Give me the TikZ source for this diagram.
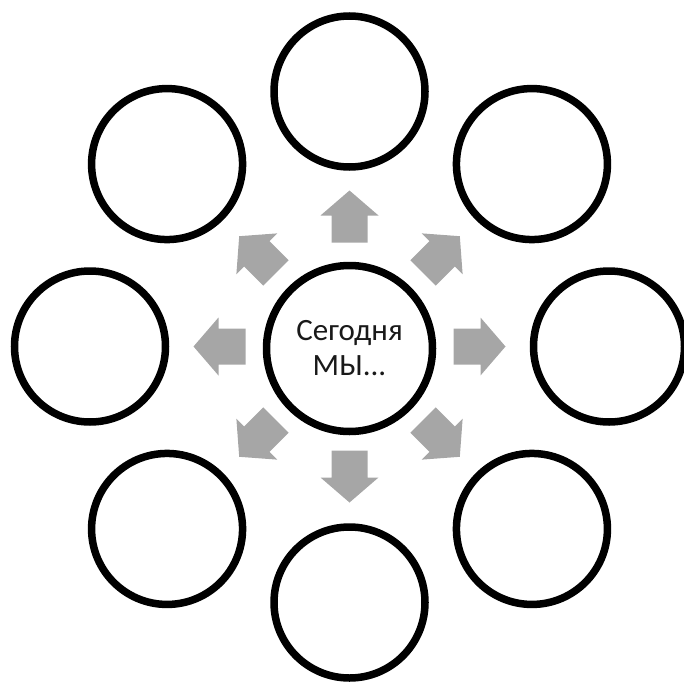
\documentclass[tikz,border=0pt]{standalone}
\usepackage{fontspec}
\setmainfont{Carlito}
\usetikzlibrary{calc}
\begin{document}
\begin{tikzpicture}[x=1pt,y=1pt,
  ring/.style={circle,draw=black,line width=7.5pt,fill=white,minimum size=151pt,inner sep=0pt},
  hub/.style={circle,draw=black,line width=7.5pt,fill=white,minimum size=166pt,inner sep=0pt,
     font=\fontsize{31}{35}\selectfont,align=center,text=black!90},
  blockarrow/.style={fill=black!35}]
\useasboundingbox (0,0) rectangle (683,-693);
\coordinate (O) at (349.5,-346.5);
\node[hub] (hub) at ($(O)+(0,-2)$) {Сегодня\\МЫ...};
\foreach \a/\r [count=\i] in {90/255,45/258,0/259.5,-45/258,-90/256,-135/258,180/259.5,135/258}{
  \node[ring] (c\i) at ($(O)+(\a:\r)$) {};
  \fill[blockarrow,shift={(O)},rotate=\a]
     (104,-18) -- (131,-18) -- (131,-29) -- (156,0) -- (131,29) -- (131,18) -- (104,18) -- cycle;
}
\end{tikzpicture}
\end{document}
